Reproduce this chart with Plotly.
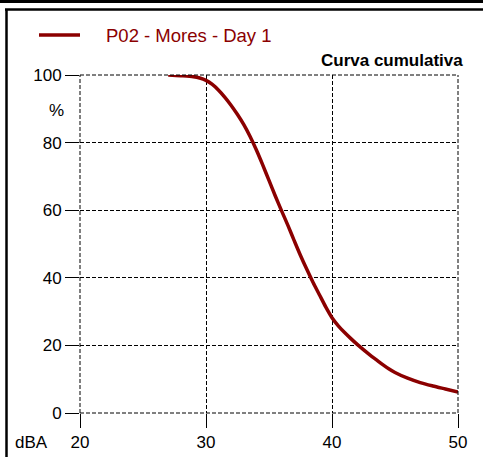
import plotly.graph_objects as go

# cumulative curve (dBA vs %)
dba = [27, 28, 29, 29.5, 30, 30.5, 31, 31.5, 32, 32.5, 33, 33.5, 34, 34.5, 35, 35.5,
       36, 36.5, 37, 37.5, 38, 38.5, 39, 39.5, 40, 40.5, 41, 41.5, 42, 43, 43.5, 44,
       44.5, 45, 46, 47, 48, 49, 50]
pct = [100, 99.8, 99.5, 99.1, 98.4, 97.2, 95.5, 93.4, 91, 88.3, 85.3, 81.8, 77.8, 73.4, 68.8, 64.2,
       59.8, 55.5, 51, 46.6, 42.5, 38.6, 35, 31.4, 28.2, 25.8, 23.8, 22, 20.3, 17.2, 15.8, 14.4,
       13.1, 12, 10.3, 9, 8, 7.1, 6.2]
x_ticks = [20, 30, 40, 50]
y_ticks = [0, 20, 40, 60, 80, 100]
series_name = "P02 - Mores - Day 1"
chart_title = "Curva cumulativa"

W, H = 483, 457
L, R, T, B = 80, 25, 75, 44
pw, ph = W - L - R, H - T - B
red = "#8b0000"
font = "Liberation Sans, Arial, sans-serif"
dash = "4px,2px"


def px(x):
    return (x - L) / pw


def py(y):
    return (H - B - y) / ph


fig = go.Figure(go.Scatter(
    x=dba, y=pct, mode="lines", name=series_name,
    line=dict(color=red, width=3.5, shape="spline", smoothing=0.8), showlegend=False,
))

grid = dict(showgrid=True, gridcolor="black", gridwidth=1, griddash=dash,
            zeroline=False, showline=False, ticks="outside", ticklen=14,
            tickcolor="black", tickwidth=1, automargin=False,
            tickfont=dict(family=font, size=17, color="black"))

fig.update_xaxes(range=[20, 50], tickvals=x_ticks, **grid)
fig.update_yaxes(range=[0, 100], tickvals=y_ticks, **grid)

edge = dict(color="black", width=1, dash=dash)
shapes = [
    # dashed grid at the plot edges
    dict(type="line", xref="x domain", yref="y domain", x0=0, x1=1, y0=0, y1=0, line=edge),
    dict(type="line", xref="x domain", yref="y domain", x0=0, x1=1, y0=1, y1=1, line=edge),
    dict(type="line", xref="x domain", yref="y domain", x0=0, x1=0, y0=0, y1=1, line=edge),
    dict(type="line", xref="x domain", yref="y domain", x0=1, x1=1, y0=0, y1=1, line=edge),
    # top heavy rule
    dict(type="line", xref="paper", yref="paper", x0=px(0), x1=px(W), y0=py(1.5), y1=py(1.5),
         line=dict(color="black", width=3)),
    # inner frame
    dict(type="line", xref="paper", yref="paper", x0=px(5), x1=px(W), y0=py(9.5), y1=py(9.5),
         line=dict(color="black", width=2.5)),
    dict(type="line", xref="paper", yref="paper", x0=px(6.5), x1=px(6.5), y0=py(9.5), y1=py(H),
         line=dict(color="black", width=2.5)),
    # legend sample
    dict(type="line", xref="paper", yref="paper", x0=px(39), x1=px(80), y0=py(35), y1=py(35),
         line=dict(color=red, width=3.5)),
]

annotations = [
    dict(text=series_name, xref="paper", yref="paper", x=px(104), y=py(35),
         xanchor="left", yanchor="middle", showarrow=False,
         font=dict(family=font, size=18.5, color=red)),
    dict(text="<b>" + chart_title + "</b>", xref="paper", yref="paper", x=px(465), y=py(60),
         xanchor="right", yanchor="middle", showarrow=False,
         font=dict(family=font, size=17, color="black")),
    dict(text="%", xref="paper", yref="paper", x=px(66), y=py(110),
         xanchor="right", yanchor="middle", showarrow=False,
         font=dict(family=font, size=17, color="black")),
    dict(text="dBA", xref="paper", yref="paper", x=px(13), y=py(442),
         xanchor="left", yanchor="middle", showarrow=False,
         font=dict(family=font, size=17, color="black")),
]

fig.update_layout(
    width=W, height=H,
    margin=dict(l=L, r=R, t=T, b=B),
    paper_bgcolor="white", plot_bgcolor="white",
    shapes=shapes, annotations=annotations,
)

fig.write_html("out.html", config={"displayModeBar": False},
               post_script="document.body.style.margin='0';")
